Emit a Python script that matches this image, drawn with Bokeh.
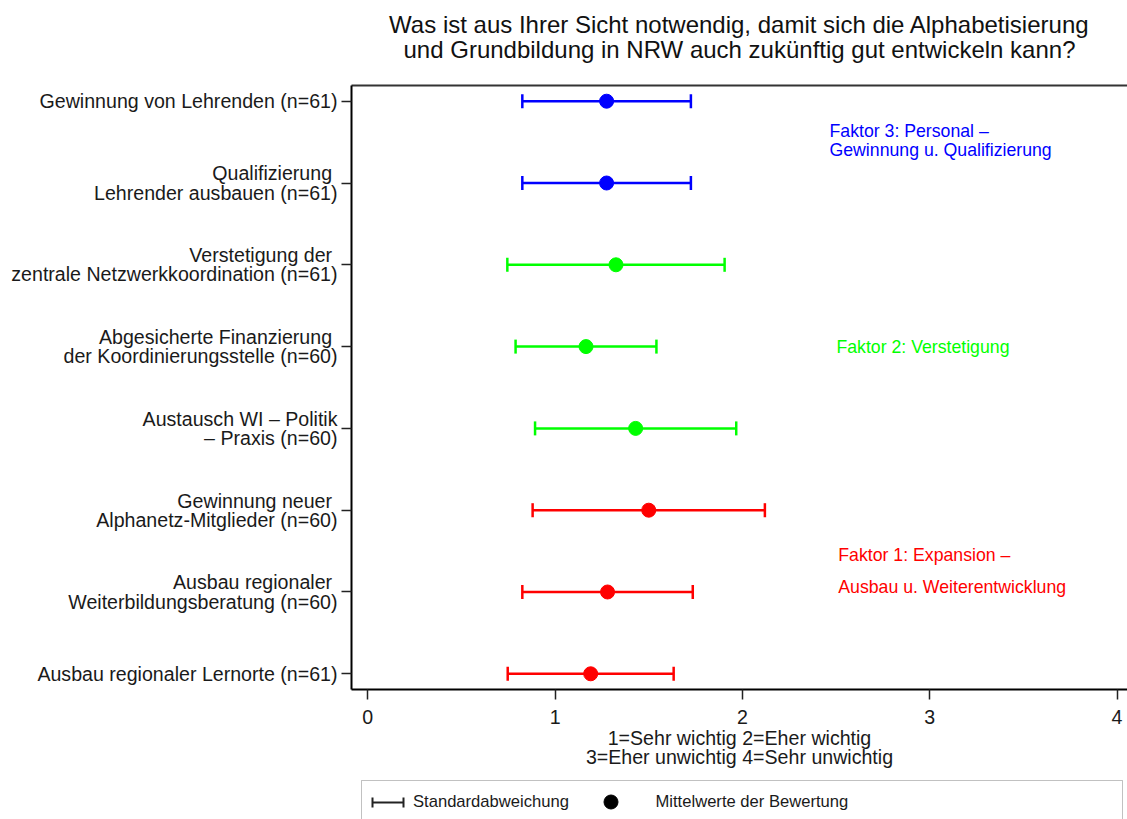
import numpy as np
from bokeh.plotting import figure
from bokeh.layouts import column
from bokeh.models import (ColumnDataSource, FixedTicker, LinearAxis, Range1d, Label, Title,
                          Legend, LegendItem, Whisker, TeeHead, BoxAnnotation)
from bokeh.embed import file_html
from bokeh.resources import INLINE

FONT = "Liberation Sans"

title_lines = ["Was ist aus Ihrer Sicht notwendig, damit sich die Alphabetisierung",
               "und Grundbildung in NRW auch zukünftig gut entwickeln kann?"]
x_title = "1=Sehr wichtig 2=Eher wichtig\n3=Eher unwichtig 4=Sehr unwichtig"

categories = [
    "Gewinnung von Lehrenden (n=61)",
    "Qualifizierung \nLehrender ausbauen (n=61)",
    "Verstetigung der \nzentrale Netzwerkkoordination (n=61)",
    "Abgesicherte Finanzierung \nder Koordinierungsstelle (n=60)",
    "Austausch WI – Politik\n– Praxis (n=60)",
    "Gewinnung neuer \nAlphanetz-Mitglieder (n=60)",
    "Ausbau regionaler \nWeiterbildungsberatung (n=60)",
    "Ausbau regionaler Lernorte (n=61)",
]
means = [1.275, 1.275, 1.325, 1.165, 1.43, 1.50, 1.28, 1.19]
sds = [0.45, 0.45, 0.58, 0.376, 0.537, 0.62, 0.455, 0.443]
colors = ["#0000ff", "#0000ff", "#00ff00", "#00ff00", "#00ff00", "#ff0000", "#ff0000", "#ff0000"]

x_ticks = [0, 1, 2, 3, 4]

factor_texts = ["Faktor 3: Personal –", "Gewinnung u. Qualifizierung",
                "Faktor 2: Verstetigung",
                "Faktor 1: Expansion –", "Ausbau u. Weiterentwicklung"]
factor_colors = ["#0000ff", "#0000ff", "#00ff00", "#ff0000", "#ff0000"]
factor_x = [2.465, 2.465, 2.502, 2.512, 2.512]
factor_y = [7.63, 7.40, 4.99, 2.458, 2.067]

legend_labels = ["Standardabweichung", "Mittelwerte der Bewertung"]

n = len(categories)
ys = [n - i for i in range(n)]
lo = [m - s for m, s in zip(means, sds)]
hi = [m + s for m, s in zip(means, sds)]
source = ColumnDataSource(dict(y=ys, mean=means, lo=lo, hi=hi, color=colors))

# ---------------- main chart ----------------
p = figure(width=1127, height=779, output_backend="svg", toolbar_location=None,
           x_range=Range1d(-0.087, 4.056), y_range=Range1d(0.808, 8.192),
           min_border_left=351, min_border_right=0, min_border_top=85, min_border_bottom=90)
p.grid.visible = False
p.outline_line_color = None
p.background_fill_color = "white"
p.border_fill_color = "white"

p.segment(x0="lo", y0="y", x1="hi", y1="y", line_color="color", line_width=2.5, source=source)
p.scatter(x="lo", y="y", marker="dash", angle=np.pi / 2, size=14, line_color="color",
          line_width=2.5, source=source)
p.scatter(x="hi", y="y", marker="dash", angle=np.pi / 2, size=14, line_color="color",
          line_width=2.5, source=source)
p.scatter(x="mean", y="y", marker="circle", size=14, fill_color="color", line_color="color",
          source=source)

xa = p.xaxis[0]
xa.ticker = FixedTicker(ticks=x_ticks)
ya = p.yaxis[0]
ya.ticker = FixedTicker(ticks=ys)
ya.major_label_overrides = {y: c for y, c in zip(ys, categories)}
for ax in (xa, ya):
    ax.axis_line_width = 2
    ax.axis_line_color = "black"
    ax.major_tick_out = 10
    ax.major_tick_in = 0
    ax.major_tick_line_width = 1.5
    ax.major_tick_line_color = "#222222"
    ax.minor_tick_line_color = None
    ax.major_label_text_font = FONT
    ax.major_label_text_color = "#1a1a1a"
    ax.major_label_text_font_size = "19.6px"
xa.major_label_standoff = 10
ya.major_label_standoff = 4
ya.major_label_text_line_height = 0.88
xa.axis_label = x_title
xa.axis_label_text_font = FONT
xa.axis_label_text_font_size = "19.6px"
xa.axis_label_text_font_style = "normal"
xa.axis_label_text_color = "#1a1a1a"
xa.axis_label_text_line_height = 0.88
xa.axis_label_standoff = 0

top = LinearAxis(ticker=FixedTicker(ticks=[]), axis_line_width=2, axis_line_color="#333333",
                 major_tick_line_color=None, minor_tick_line_color=None, major_tick_out=0,
                 major_label_standoff=0, major_label_text_font_size="0px")
p.add_layout(top, "above")
# blank spacer between frame and title
p.add_layout(Title(text=" ", text_font=FONT, text_font_size="20.8px", standoff=0), "above")
for t in (title_lines[1], title_lines[0]):
    p.add_layout(Title(text=t, align="center", offset=3, text_font=FONT, text_font_size="24px",
                       text_font_style="normal", text_color="#111111", standoff=-4), "above")

for t, c, fx, fy in zip(factor_texts, factor_colors, factor_x, factor_y):
    p.add_layout(Label(x=fx, y=fy, text=t, text_color=c, text_align="left",
                       text_baseline="middle", text_font=FONT, text_font_size="17.7px"))

# ---------------- legend strip ----------------
q = figure(width=1127, height=40, output_backend="svg", toolbar_location=None,
           x_range=Range1d(0, 1), y_range=Range1d(0, 1), x_axis_type=None, y_axis_type=None,
           min_border_left=351, min_border_right=0, min_border_top=0, min_border_bottom=0)
q.grid.visible = False
q.outline_line_color = None
q.background_fill_color = "white"
q.border_fill_color = "white"

q.add_layout(BoxAnnotation(left=10, right=771, top=39, bottom=-20, left_units="screen",
                           right_units="screen", top_units="screen", bottom_units="screen",
                           fill_alpha=0, line_color="#333333", line_width=1))
# legend proxies, placed outside the visible ranges
dummy_seg = q.segment(x0=[-5], y0=[-5], x1=[-4], y1=[-5], line_alpha=0)
dummy_dot = q.scatter(x=[-5], y=[-5], marker="circle", size=14, color="black")
legA = Legend(items=[LegendItem(label=legend_labels[0], renderers=[dummy_seg])],
              location=(21, 0), orientation="horizontal", padding=0, margin=0,
              glyph_width=35, glyph_height=35, label_standoff=6,
              border_line_color=None, background_fill_alpha=0,
              label_text_font=FONT, label_text_font_size="16.6px", label_text_color="#1a1a1a")
legB = Legend(items=[LegendItem(label=legend_labels[1], renderers=[dummy_dot])],
              location=(241.5, 0), orientation="horizontal", padding=0, margin=0,
              glyph_width=35, glyph_height=35, label_standoff=28,
              border_line_color=None, background_fill_alpha=0,
              label_text_font=FONT, label_text_font_size="16.6px", label_text_color="#1a1a1a")
q.add_layout(legA, "center")
q.add_layout(legB, "center")
wsrc = ColumnDataSource(dict(base=[17], lower=[21], upper=[52]))
q.add_layout(Whisker(source=wsrc, base="base", lower="lower", upper="upper", dimension="width",
                     base_units="screen", lower_units="screen", upper_units="screen",
                     line_color="#222222", line_width=2,
                     upper_head=TeeHead(size=10, line_width=2, line_color="#222222"),
                     lower_head=TeeHead(size=10, line_width=2, line_color="#222222")))

layout = column(p, q, spacing=0)
open("out.html", "w").write(file_html(layout, INLINE))
